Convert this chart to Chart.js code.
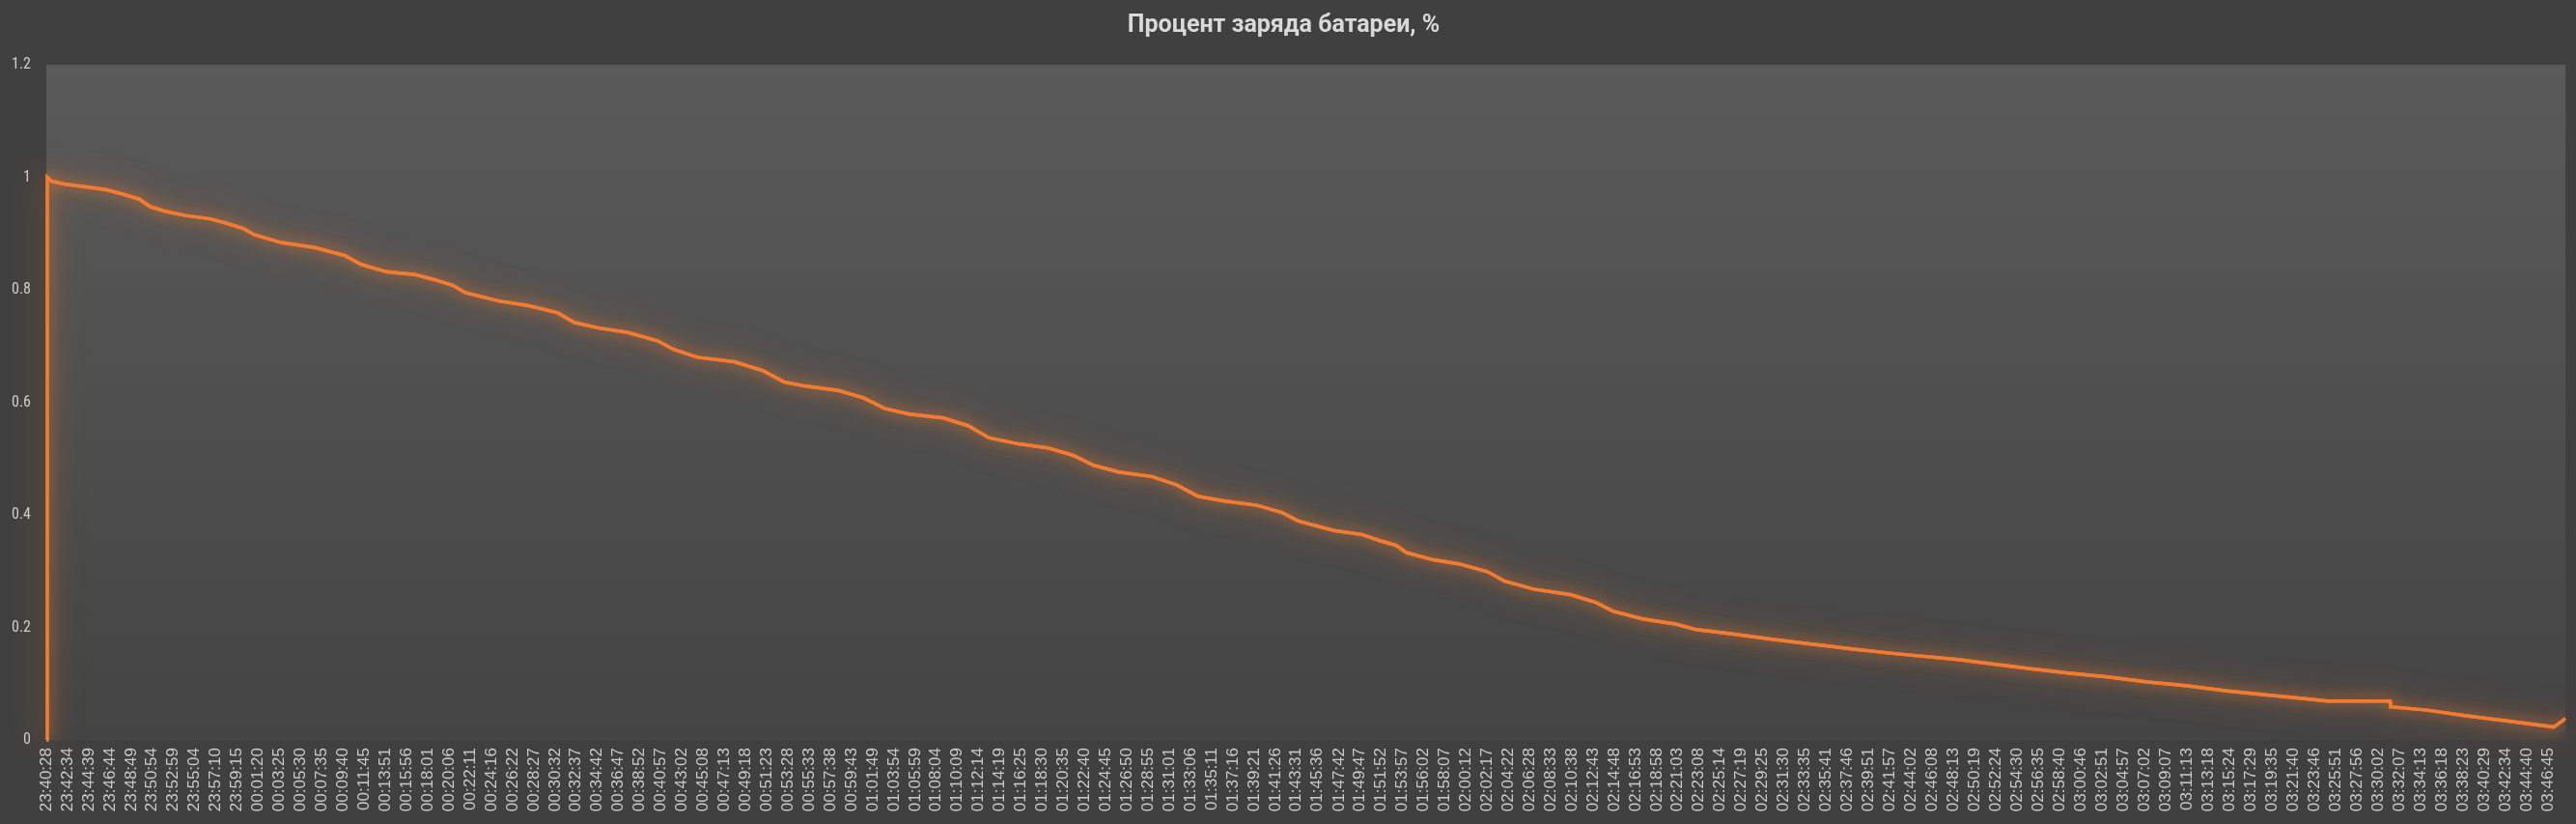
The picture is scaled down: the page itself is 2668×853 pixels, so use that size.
<!DOCTYPE html>
<html>
<head>
<meta charset="utf-8">
<title>Процент заряда батареи</title>
<script src="https://cdn.jsdelivr.net/npm/chart.js@4.4.1/dist/chart.umd.min.js"></script>
<style>
    html, body { margin: 0; padding: 0; background: #404040; }
    #chart { display: block; }
</style>
</head>
<body>
<canvas id="chart" width="2668" height="853"></canvas>
<script>
var chartTitle = 'Процент заряда батареи, %';

// time of each reading
var times = ['23:40:28', '23:40:33', '23:40:59', '23:42:13', '23:43:50', '23:46:18', '23:48:00', '23:49:37', '23:50:40', '23:52:05',
    '23:54:10', '23:56:38', '23:58:15', '23:59:52', '00:00:55', '00:03:34', '00:06:53', '00:09:50', '00:11:27', '00:13:55',
    '00:16:46', '00:18:28', '00:20:28', '00:21:42', '00:25:01', '00:27:52', '00:30:49', '00:32:25', '00:34:53', '00:37:44',
    '00:40:41', '00:42:12', '00:44:34', '00:48:11', '00:51:02', '00:53:07', '00:55:06', '00:58:26', '01:00:54', '01:02:59',
    '01:05:27', '01:08:47', '01:11:15', '01:13:14', '01:16:11', '01:19:02', '01:21:30', '01:23:35', '01:26:03', '01:29:17',
    '01:31:45', '01:33:50', '01:36:18', '01:39:38', '01:42:06', '01:43:42', '01:47:13', '01:49:58', '01:51:35', '01:53:18',
    '01:54:20', '01:57:00', '01:59:28', '02:02:19', '02:04:01', '02:06:52', '02:10:34', '02:13:02', '02:14:39', '02:17:36',
    '02:20:49', '02:22:54', '02:26:14', '02:30:19', '02:34:24', '02:38:34', '02:42:39', '02:48:38', '02:51:34', '02:55:34',
    '02:59:27', '03:03:20', '03:07:20', '03:11:13', '03:15:07', '03:19:06', '03:22:59', '03:24:59', '03:31:09', '03:31:12',
    '03:34:46', '03:38:39', '03:42:38', '03:47:17', '03:48:25'];

// battery charge (1 = 100%)
var charge = [0, 1.000, 0.993, 0.988, 0.984, 0.978, 0.970, 0.961, 0.948, 0.940,
    0.932, 0.926, 0.918, 0.909, 0.898, 0.884, 0.875, 0.861, 0.845, 0.832,
    0.827, 0.819, 0.808, 0.795, 0.780, 0.772, 0.759, 0.742, 0.732, 0.724,
    0.709, 0.694, 0.680, 0.672, 0.656, 0.636, 0.629, 0.621, 0.608, 0.589,
    0.579, 0.572, 0.558, 0.537, 0.526, 0.519, 0.506, 0.488, 0.476, 0.468,
    0.453, 0.433, 0.425, 0.417, 0.404, 0.389, 0.372, 0.365, 0.355, 0.346,
    0.333, 0.320, 0.313, 0.299, 0.282, 0.268, 0.258, 0.244, 0.229, 0.215,
    0.206, 0.196, 0.189, 0.179, 0.170, 0.161, 0.153, 0.143, 0.136, 0.127,
    0.119, 0.112, 0.103, 0.096, 0.087, 0.080, 0.073, 0.069, 0.069, 0.059,
    0.053, 0.043, 0.034, 0.023, 0.038];

// labels printed under the x axis
var xTicks = ['23:40:28', '23:42:34', '23:44:39', '23:46:44', '23:48:49', '23:50:54', '23:52:59', '23:55:04', '23:57:10', '23:59:15',
    '00:01:20', '00:03:25', '00:05:30', '00:07:35', '00:09:40', '00:11:45', '00:13:51', '00:15:56', '00:18:01', '00:20:06',
    '00:22:11', '00:24:16', '00:26:22', '00:28:27', '00:30:32', '00:32:37', '00:34:42', '00:36:47', '00:38:52', '00:40:57',
    '00:43:02', '00:45:08', '00:47:13', '00:49:18', '00:51:23', '00:53:28', '00:55:33', '00:57:38', '00:59:43', '01:01:49',
    '01:03:54', '01:05:59', '01:08:04', '01:10:09', '01:12:14', '01:14:19', '01:16:25', '01:18:30', '01:20:35', '01:22:40',
    '01:24:45', '01:26:50', '01:28:55', '01:31:01', '01:33:06', '01:35:11', '01:37:16', '01:39:21', '01:41:26', '01:43:31',
    '01:45:36', '01:47:42', '01:49:47', '01:51:52', '01:53:57', '01:56:02', '01:58:07', '02:00:12', '02:02:17', '02:04:22',
    '02:06:28', '02:08:33', '02:10:38', '02:12:43', '02:14:48', '02:16:53', '02:18:58', '02:21:03', '02:23:08', '02:25:14',
    '02:27:19', '02:29:25', '02:31:30', '02:33:35', '02:35:41', '02:37:46', '02:39:51', '02:41:57', '02:44:02', '02:46:08',
    '02:48:13', '02:50:19', '02:52:24', '02:54:30', '02:56:35', '02:58:40', '03:00:46', '03:02:51', '03:04:57', '03:07:02',
    '03:09:07', '03:11:13', '03:13:18', '03:15:24', '03:17:29', '03:19:35', '03:21:40', '03:23:46', '03:25:51', '03:27:56',
    '03:30:02', '03:32:07', '03:34:13', '03:36:18', '03:38:23', '03:40:29', '03:42:34', '03:44:40', '03:46:45'];

var yTicks = ['0', '0.2', '0.4', '0.6', '0.8', '1', '1.2'];

// seconds since the first reading (the log runs past midnight)
function toSec(t) {
    var p = t.split(':');
    var s = (+p[0]) * 3600 + (+p[1]) * 60 + (+p[2]);
    var start = times[0].split(':');
    var s0 = (+start[0]) * 3600 + (+start[1]) * 60 + (+start[2]);
    if (s < s0) s += 86400;
    return s - s0;
}

var points = times.map(function (t, i) {
    return { x: toSec(t), y: charge[i] };
});

var background = {
    id: 'background',
    beforeDraw: function (chart) {
        var ctx = chart.ctx;
        var a = chart.chartArea;
        ctx.save();
        ctx.fillStyle = '#404040';
        ctx.fillRect(0, 0, chart.width, chart.height);
        var g = ctx.createLinearGradient(0, a.top, 0, a.bottom);
        g.addColorStop(0, '#5a5a5a');
        g.addColorStop(1, '#444444');
        ctx.fillStyle = g;
        ctx.fillRect(a.left, a.top, a.right - a.left, a.bottom - a.top);
        ctx.restore();
    }
};

// orange glow round the line (drawn twice so it spreads like the excel glow)
var glow = {
    id: 'glow',
    beforeDatasetDraw: function (chart, args) {
        var ctx = chart.ctx;
        var meta = args.meta;
        ctx.save();
        ctx.shadowColor = 'rgba(240, 125, 50, 0.9)';
        ctx.shadowBlur = 32;
        meta.dataset.draw(ctx, chart.chartArea);
        ctx.shadowBlur = 14;
    },
    afterDatasetDraw: function (chart) {
        chart.ctx.restore();
    }
};

var ctx = document.getElementById('chart').getContext('2d');
var chart = new Chart(ctx, {
    type: 'line',
    data: {
        datasets: [{
            label: chartTitle,
            data: points,
            borderColor: '#f07b32',
            borderWidth: 3.5,
            pointRadius: 0,
            tension: 0,
            fill: false
        }]
    },
    options: {
        responsive: false,
        animation: false,
        devicePixelRatio: 1,
        layout: { padding: { left: 0, right: 9, top: 0, bottom: 0 } },
        plugins: {
            legend: { display: false },
            tooltip: { enabled: false },
            title: {
                display: true,
                text: chartTitle,
                color: '#d9d9d9',
                font: { family: "Roboto, 'Liberation Sans', sans-serif", size: 25, weight: 'bold' },
                padding: { top: 12, bottom: 25 }
            }
        },
        scales: {
            x: {
                type: 'linear',
                bounds: 'data',
                min: 0,
                max: toSec(times[times.length - 1]),
                grid: { display: false, drawTicks: false },
                border: { display: false },
                afterBuildTicks: function (axis) {
                    axis.ticks = xTicks.map(function (t) { return { value: toSec(t) }; });
                },
                afterFit: function (axis) { axis.height = 87; },
                ticks: {
                    autoSkip: false,
                    minRotation: 90,
                    maxRotation: 90,
                    padding: 8,
                    color: '#cacaca',
                    font: { family: "'Liberation Sans', Arial, sans-serif", size: 17 },
                    callback: function (value, index) { return xTicks[index]; }
                }
            },
            y: {
                min: 0,
                max: 1.2,
                grid: { display: false, drawTicks: false },
                border: { display: false },
                afterFit: function (axis) { axis.width = 48; },
                ticks: {
                    stepSize: 0.2,
                    padding: 16,
                    color: '#cfcfcf',
                    font: { family: "'Liberation Sans Narrow', 'Roboto Condensed', 'Liberation Sans', sans-serif", size: 16 },
                    callback: function (value, index) { return yTicks[index]; }
                }
            }
        }
    },
    plugins: [background, glow]
});
</script>
</body>
</html>
